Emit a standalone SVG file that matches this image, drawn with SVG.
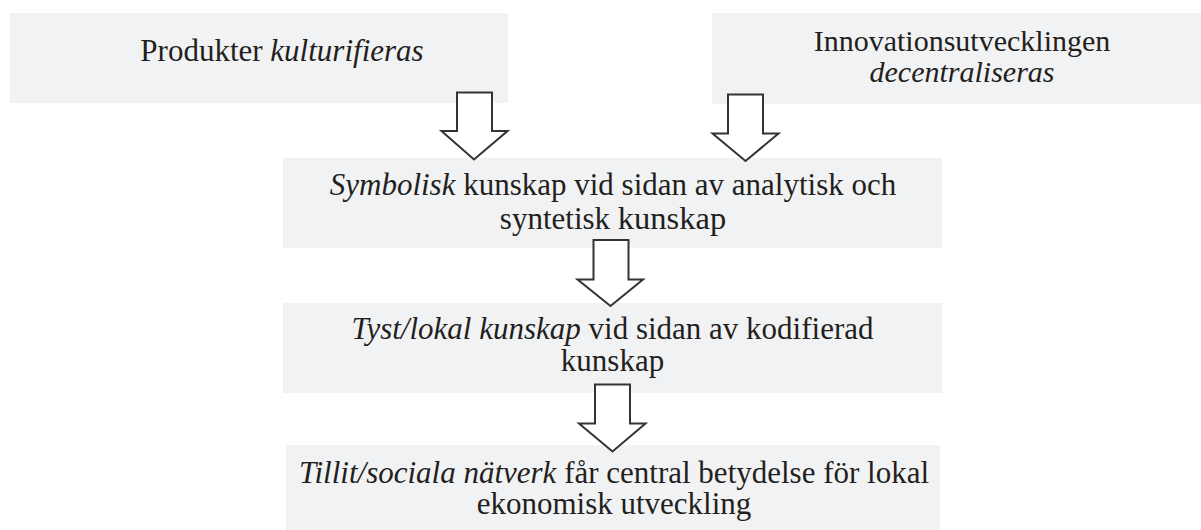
<svg xmlns="http://www.w3.org/2000/svg" width="1201" height="530" viewBox="0 0 1201 530">
<style>
.box{fill:#f1f2f4;stroke:none}
.t{font-family:"Liberation Serif","Times New Roman",serif;font-size:31px;fill:#231f20;text-anchor:middle}
.i{font-style:italic}
.arr{fill:#ffffff;stroke:#333333;stroke-width:2;stroke-linejoin:miter}
</style>
<rect width="1201" height="530" fill="#ffffff"/>
<g id="node-produkter">
<rect class="box" x="10" y="13" width="498" height="90"/>
<text class="t" x="282" y="61">Produkter <tspan class="i">kulturifieras</tspan></text>
</g>
<g id="node-innovation">
<rect class="box" x="712" y="13" width="500" height="91"/>
<text class="t" x="962" y="51" style="font-size:30px">Innovationsutvecklingen</text>
<text class="t i" x="962" y="82" style="font-size:30px">decentraliseras</text>
</g>
<g id="node-symbolisk">
<rect class="box" x="283" y="158" width="659" height="90"/>
<text class="t" x="613" y="195"><tspan class="i">Symbolisk</tspan> kunskap vid sidan av analytisk och</text>
<text class="t" x="613" y="229">syntetisk <tspan style="font-size:32.5px">kunskap</tspan></text>
</g>
<g id="node-tyst">
<rect class="box" x="283" y="303" width="659" height="90"/>
<text class="t" x="612.5" y="339"><tspan class="i">Tyst/lokal kunskap</tspan> vid sidan av kodifierad</text>
<text class="t" x="612.5" y="371">kunskap</text>
</g>
<g id="node-tillit">
<rect class="box" x="286" y="445" width="654" height="90"/>
<text class="t" x="614" y="483"><tspan class="i">Tillit/sociala nätverk</tspan> får central betydelse för lokal</text>
<text class="t" x="614" y="514">ekonomisk utveckling</text>
</g>
<g id="connectors">
<polygon class="arr" points="457,92.5 492,92.5 492,131 507.5,131 474,159.5 441.5,131 457,131"/>
<polygon class="arr" points="728,94.5 763,94.5 763,133.5 778.5,133.5 745.5,161 712.5,133.5 728,133.5"/>
<polygon class="arr" points="593.5,240 628.5,240 628.5,279.5 643,279.5 610.5,306 577.5,279.5 593.5,279.5"/>
<polygon class="arr" points="595,384.5 630,384.5 630,423.5 645.5,423.5 612.5,451.5 579,423.5 595,423.5"/>
</g>
</svg>
